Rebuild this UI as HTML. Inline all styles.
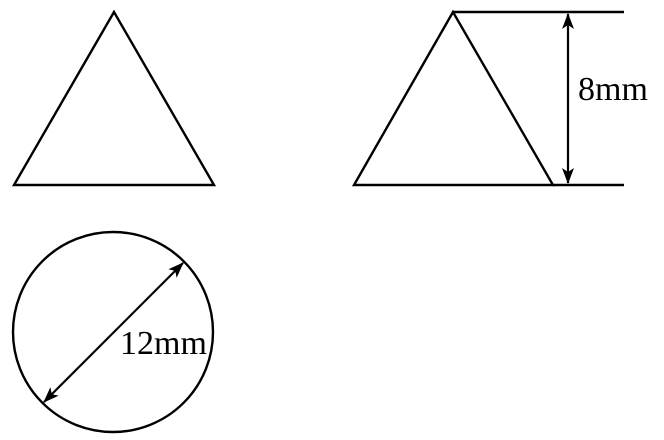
<!DOCTYPE html>
<html><head><meta charset="utf-8"><style>html,body{margin:0;padding:0;background:#fff}svg{display:block}</style></head>
<body>
<svg width="664" height="440" viewBox="0 0 664 440" xmlns="http://www.w3.org/2000/svg">
<defs>
<marker id="ah" viewBox="0 0 16 12" refX="15" refY="6" markerWidth="16" markerHeight="12" markerUnits="userSpaceOnUse" orient="auto-start-reverse">
<path d="M0,0 L16,6 L0,12 L4,6 Z" fill="#000"/>
</marker>
</defs>
<g fill="none" stroke="#000" stroke-width="2.4">
<polygon points="114,12 14,185 214,185"/>
<polygon points="453,12 354,185 553,185"/>
<line x1="453" y1="12" x2="624" y2="12"/>
<line x1="553" y1="185" x2="624" y2="185"/>
<line x1="568" y1="14" x2="568" y2="183" stroke-width="2.2" marker-start="url(#ah)" marker-end="url(#ah)"/>
<circle cx="113" cy="332" r="100"/>
<line x1="44" y1="402" x2="183" y2="263" stroke-width="2.2" marker-start="url(#ah)" marker-end="url(#ah)"/>
</g>
<text x="578" y="100" font-family="Liberation Serif, serif" font-size="34">8mm</text>
<text x="120" y="354" font-family="Liberation Serif, serif" font-size="34">12mm</text>
</svg>
</body></html>
